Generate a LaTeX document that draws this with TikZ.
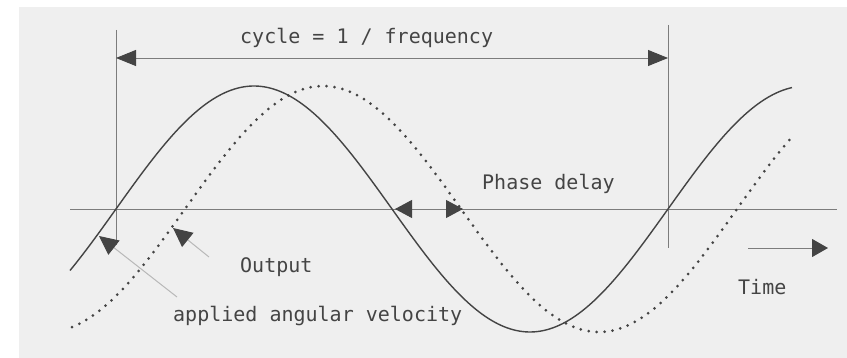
\documentclass[tikz,border=0pt]{standalone}
\usepackage{fontspec}
\setmonofont{DejaVu Sans Mono}
\usetikzlibrary{arrows.meta}
\definecolor{bgGray}{HTML}{EFEFEF}
\definecolor{inkGray}{HTML}{444444}
\definecolor{axisGray}{HTML}{7C7C7C}
\definecolor{leadGray}{HTML}{B8B8B8}

\begin{document}
\begin{tikzpicture}[
    x=1pt, y=-1pt,
    lbl/.style={font=\fontsize{20}{24}\selectfont\ttfamily, text=inkGray,
                inner sep=0pt, anchor=base west},
    guide/.style={draw=axisGray, line width=0.9pt},
    wave/.style={draw=inkGray, line width=1.4pt, smooth, samples=150},
    lagwave/.style={draw=inkGray, line width=3pt, line cap=round,
                    dash pattern=on 0pt off 8pt, smooth, samples=150},
    dimarr/.style={{Triangle[length=20pt, width=16pt, color=inkGray, fill=inkGray]}-{Triangle[length=20pt, width=16pt, color=inkGray, fill=inkGray]}, guide},
    phasearr/.style={{Triangle[length=17pt, width=18pt, color=inkGray, fill=inkGray]}-{Triangle[length=17pt, width=18pt, color=inkGray, fill=inkGray]}, guide},
    timearr/.style={-{Triangle[length=16pt, width=18pt, color=inkGray, fill=inkGray]}, guide},
    leadarr/.style={-{Triangle[length=19pt, width=18pt, color=inkGray, fill=inkGray]},
                    draw=leadGray, line width=1pt}
  ]
    \useasboundingbox (0,0) rectangle (847,358);
    \fill[bgGray] (19,7) rectangle (847,358);

    % axis and cycle markers
    \coordinate (axL) at (70,209);
    \coordinate (axR) at (837,209);
    \draw[guide] (axL) -- (axR);
    \coordinate (vAtop) at (116,30);
    \coordinate (vAbot) at (116,245);
    \coordinate (vBtop) at (668,25);
    \coordinate (vBbot) at (668,248);
    \draw[guide] (vAtop) -- (vAbot);
    \draw[guide] (vBtop) -- (vBbot);

    % waves: input (solid) and output (lagging)
    \draw[wave] plot[domain=70:792] (\x, {209-123*sin((\x-116)/552*360)});
    \draw[lagwave] plot[domain=72:790] (\x, {209-123*sin((\x-185)/552*360)});

    % cycle arrow
    \coordinate (cycL) at (116,58);
    \coordinate (cycR) at (668,58);
    \draw[dimarr] (cycL) -- (cycR);
    \node[lbl] (cyc) at (240,44) {cycle = 1 / frequency};

    % phase delay
    \coordinate (phL) at (395,209);
    \coordinate (phR) at (463,209);
    \draw[phasearr] (phL) -- (phR);
    \node[lbl] (phase) at (482,190) {Phase delay};

    % leaders to the two curves
    \coordinate (outFrom) at (209,257);
    \coordinate (outTip) at (173,228);
    \draw[leadarr] (outFrom) -- (outTip);
    \node[lbl] (outp) at (240,273) {Output};

    \coordinate (inFrom) at (177,297);
    \coordinate (inTip) at (99,236);
    \draw[leadarr] (inFrom) -- (inTip);
    \node[lbl] (inp) at (173,322) {applied angular velocity};

    % time direction
    \coordinate (tL) at (748,248);
    \coordinate (tR) at (828,248);
    \draw[timearr] (tL) -- (tR);
    \node[lbl] (time) at (738,295) {Time};
  \end{tikzpicture}
\end{document}
